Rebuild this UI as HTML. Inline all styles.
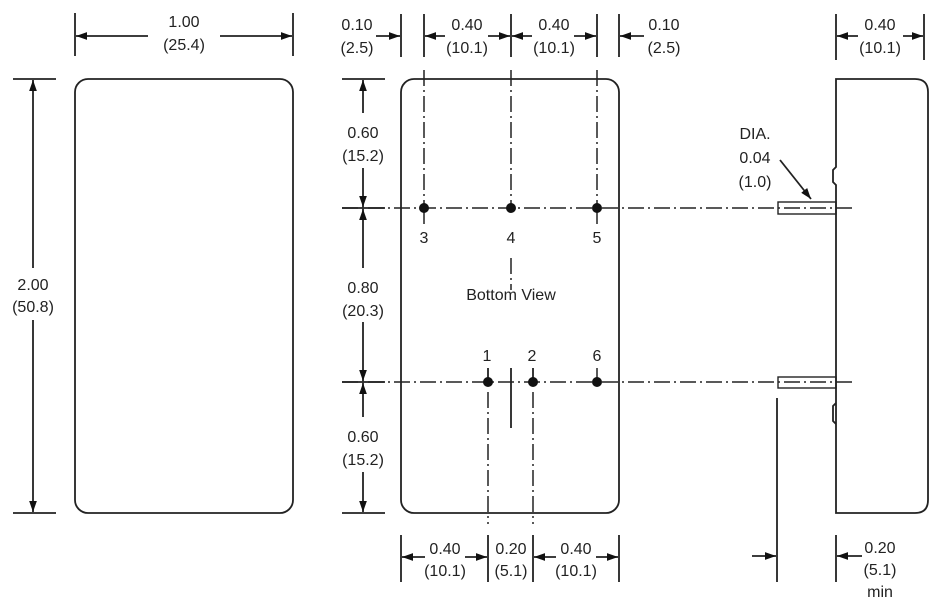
<!DOCTYPE html>
<html><head><style>body{margin:0;background:#fff}svg{display:block}text{font-family:"Liberation Sans",sans-serif;font-size:16px;fill:#222;text-anchor:middle}</style></head><body>
<svg width="945" height="602" viewBox="0 0 945 602" xmlns="http://www.w3.org/2000/svg">
<defs><marker id="a" viewBox="0 0 10 10" refX="10" refY="5" markerWidth="11" markerHeight="11" markerUnits="userSpaceOnUse" orient="auto"><path d="M0,1.5L10,5L0,8.5z" fill="#111"/></marker></defs>
<g stroke="#222" stroke-width="1.8" fill="none">
<rect x="75" y="79" width="218" height="434" rx="13"/>
<line x1="75" y1="13" x2="75" y2="56"/><line x1="293" y1="13" x2="293" y2="56"/>
<line x1="148" y1="36" x2="76" y2="36" marker-end="url(#a)"/><line x1="220" y1="36" x2="292" y2="36" marker-end="url(#a)"/>
<line x1="13" y1="79" x2="56" y2="79"/><line x1="13" y1="513" x2="56" y2="513"/>
<line x1="33" y1="268" x2="33" y2="80" marker-end="url(#a)"/><line x1="33" y1="320" x2="33" y2="512" marker-end="url(#a)"/>
<rect x="401" y="79" width="218" height="434" rx="13"/>
<line x1="401" y1="14" x2="401" y2="57"/><line x1="424" y1="14" x2="424" y2="57"/><line x1="511" y1="14" x2="511" y2="57"/><line x1="597" y1="14" x2="597" y2="57"/><line x1="619" y1="14" x2="619" y2="57"/>
<line x1="376" y1="36" x2="400" y2="36" marker-end="url(#a)"/>
<line x1="445" y1="36" x2="425" y2="36" marker-end="url(#a)"/><line x1="488" y1="36" x2="510" y2="36" marker-end="url(#a)"/>
<line x1="532" y1="36" x2="512" y2="36" marker-end="url(#a)"/><line x1="574" y1="36" x2="596" y2="36" marker-end="url(#a)"/>
<line x1="644" y1="36" x2="620" y2="36" marker-end="url(#a)"/>
<line x1="342" y1="79" x2="385" y2="79"/><line x1="342" y1="208" x2="385" y2="208"/><line x1="342" y1="382" x2="385" y2="382"/><line x1="342" y1="513" x2="385" y2="513"/>
<line x1="363" y1="113" x2="363" y2="80" marker-end="url(#a)"/><line x1="363" y1="168" x2="363" y2="207" marker-end="url(#a)"/>
<line x1="363" y1="268" x2="363" y2="209" marker-end="url(#a)"/><line x1="363" y1="322" x2="363" y2="381" marker-end="url(#a)"/>
<line x1="363" y1="417" x2="363" y2="383" marker-end="url(#a)"/><line x1="363" y1="472" x2="363" y2="512" marker-end="url(#a)"/>
<g stroke-dasharray="16,4,2,4" stroke-width="1.5">
<line x1="424" y1="70" x2="424" y2="208"/><line x1="511" y1="70" x2="511" y2="208"/><line x1="597" y1="70" x2="597" y2="208"/>
<line x1="342" y1="208" x2="852" y2="208"/><line x1="342" y1="382" x2="852" y2="382"/>
<line x1="424" y1="208" x2="424" y2="228"/><line x1="597" y1="208" x2="597" y2="228"/>
<line x1="511" y1="258" x2="511" y2="290"/><line x1="597" y1="368" x2="597" y2="382"/>
<line x1="488" y1="392" x2="488" y2="524"/><line x1="533" y1="392" x2="533" y2="524"/>
</g>
<line x1="511" y1="368" x2="511" y2="428"/>
<line x1="488" y1="368" x2="488" y2="382"/><line x1="533" y1="368" x2="533" y2="382"/>
<line x1="401" y1="535" x2="401" y2="582"/><line x1="488" y1="535" x2="488" y2="582"/><line x1="533" y1="535" x2="533" y2="582"/><line x1="619" y1="535" x2="619" y2="582"/>
<line x1="425" y1="557" x2="402" y2="557" marker-end="url(#a)"/><line x1="465" y1="557" x2="487" y2="557" marker-end="url(#a)"/>
<line x1="556" y1="557" x2="534" y2="557" marker-end="url(#a)"/><line x1="596" y1="557" x2="618" y2="557" marker-end="url(#a)"/>
<path d="M836,79 H915 Q928,79 928,92 V500 Q928,513 915,513 H836 V185 L833,182 V170 L836,167 Z"/>
<path d="M836,403 L833,406 V421 L836,424"/>
<rect x="778" y="202" width="58" height="12" stroke-width="1.4"/>
<rect x="778" y="377" width="58" height="11" stroke-width="1.4"/>
<line x1="836" y1="14" x2="836" y2="60"/><line x1="924" y1="14" x2="924" y2="60"/>
<line x1="858" y1="36" x2="837" y2="36" marker-end="url(#a)"/><line x1="903" y1="36" x2="923" y2="36" marker-end="url(#a)"/>
<line x1="780" y1="160" x2="811" y2="199" marker-end="url(#a)"/>
<line x1="777" y1="398" x2="777" y2="582"/><line x1="836" y1="535" x2="836" y2="582"/>
<line x1="752" y1="556" x2="776" y2="556" marker-end="url(#a)"/><line x1="862" y1="556" x2="837" y2="556" marker-end="url(#a)"/>
</g>
<g fill="#111"><circle cx="424" cy="208" r="5"/><circle cx="511" cy="208" r="5"/><circle cx="597" cy="208" r="5"/><circle cx="488" cy="382" r="5"/><circle cx="533" cy="382" r="5"/><circle cx="597" cy="382" r="5"/></g>
<text x="184" y="27">1.00</text><text x="184" y="50">(25.4)</text>
<text x="33" y="290">2.00</text><text x="33" y="312">(50.8)</text>
<text x="357" y="30">0.10</text><text x="357" y="53">(2.5)</text>
<text x="467" y="30">0.40</text><text x="467" y="53">(10.1)</text>
<text x="554" y="30">0.40</text><text x="554" y="53">(10.1)</text>
<text x="664" y="30">0.10</text><text x="664" y="53">(2.5)</text>
<text x="880" y="30">0.40</text><text x="880" y="53">(10.1)</text>
<text x="363" y="138">0.60</text><text x="363" y="161">(15.2)</text>
<text x="363" y="293">0.80</text><text x="363" y="316">(20.3)</text>
<text x="363" y="442">0.60</text><text x="363" y="465">(15.2)</text>
<text x="424" y="243">3</text><text x="511" y="243">4</text><text x="597" y="243">5</text>
<text x="487" y="361">1</text><text x="532" y="361">2</text><text x="597" y="361">6</text>
<text x="511" y="300">Bottom View</text>
<text x="755" y="139">DIA.</text><text x="755" y="163">0.04</text><text x="755" y="187">(1.0)</text>
<text x="445" y="554">0.40</text><text x="445" y="576">(10.1)</text>
<text x="511" y="554">0.20</text><text x="511" y="576">(5.1)</text>
<text x="576" y="554">0.40</text><text x="576" y="576">(10.1)</text>
<text x="880" y="553">0.20</text><text x="880" y="575">(5.1)</text><text x="880" y="597">min</text>
</svg>
</body></html>
